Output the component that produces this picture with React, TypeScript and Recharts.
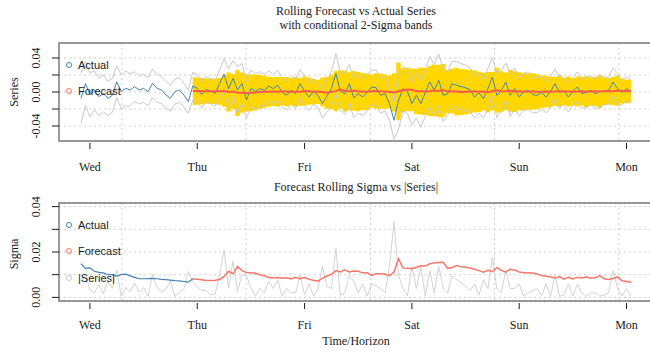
import React from 'react';
import {
  ComposedChart,
  Line,
  Area,
  XAxis,
  YAxis,
  CartesianGrid,
  ReferenceArea,
} from 'recharts';

// hourly observations, first one is 2h before Wed 00:00
const START_HOUR = -2;
const FORECAST_START = 23;

const dayTicks = [0, 24, 48, 72, 96, 120];
const dayLabels = ['Wed', 'Thu', 'Fri', 'Sat', 'Sun', 'Mon'];
const gridHours = [7.15, 34.93, 62.71, 90.49, 118.27];

const seriesTicks = [-0.04, -0.02, 0, 0.02, 0.04];
const seriesTickLabels = ['-0.04', '', '0.00', '', '0.04'];
const sigmaTicks = [0, 0.01, 0.02, 0.03, 0.04];
const sigmaTickLabels = ['0.00', '', '0.02', '', '0.04'];

const X_MIN = -6.92;
const X_MAX = 125.92;
const SERIES_DOMAIN: [number, number] = [-0.0576, 0.0576];
const SIGMA_DOMAIN: [number, number] = [-0.0016, 0.0416];

const actual = [
  -0.0074, 0.0100, -0.0035, 0.0020, -0.0055, -0.0016, -0.0074, -0.0040, 0.0120, 0.0004,
  0.0043, 0.0024, 0.0063, 0.0024, 0.0043, 0.0004, 0.0102, 0.0043, 0.0024, -0.0035,
  -0.0074, 0.0004, 0.0024, -0.0035, -0.0114, 0.0070, 0.0045, -0.0030, 0.0030, 0.0010,
  -0.0015, 0.0100, 0.0210, 0.0040, 0.0160, 0.0025, 0.0100, -0.0095, 0.0043, 0.0006,
  0.0040, 0.0020, 0.0070, 0.0040, 0.0078, -0.0004, -0.0039, 0.0020, -0.0020, 0.0098,
  0.0010, -0.0059, 0.0005, -0.0039, -0.0137, -0.0050, 0.0039, 0.0216, 0.0008, -0.0020,
  0.0098, -0.0070, -0.0020, -0.0059, -0.0005, 0.0060, 0.0050, -0.0039, -0.0020, -0.0137,
  -0.0333, -0.0098, 0.0039, 0.0006, -0.0137, -0.0039, -0.0137, -0.0006, 0.0118, 0.0020,
  0.0137, -0.0039, -0.0020, 0.0098, 0.0078, 0.0065, 0.0050, 0.0030, -0.0059, -0.0010,
  -0.0078, 0.0039, 0.0176, -0.0039, 0.0020, 0.0118, -0.0039, 0.0039, -0.0059, 0.0005,
  0.0020, -0.0030, -0.0039, -0.0006, -0.0059, 0.0004, 0.0098, -0.0005, 0.0010, -0.0059,
  0.0006, 0.0059, -0.0020, -0.0004, 0.0020, -0.0020, 0.0005, 0.0010, 0.0020, 0.0118,
  0.0039, -0.0006, 0.0039, 0.0008,
];

const sigma = [
  0.0148, 0.0128, 0.0130, 0.0115, 0.0110, 0.0108, 0.0100, 0.0100, 0.0094, 0.0100,
  0.0102, 0.0095, 0.0088, 0.0082, 0.0082, 0.0083, 0.0084, 0.0082, 0.0079, 0.0078,
  0.0076, 0.0074, 0.0073, 0.0070, 0.0067, 0.0082, 0.0080, 0.0078, 0.0074, 0.0074,
  0.0075, 0.0079, 0.0092, 0.0115, 0.0104, 0.0136, 0.0118, 0.0110, 0.0108, 0.0106,
  0.0100, 0.0095, 0.0088, 0.0085, 0.0088, 0.0084, 0.0086, 0.0081, 0.0088, 0.0082,
  0.0087, 0.0080, 0.0075, 0.0071, 0.0085, 0.0094, 0.0102, 0.0118, 0.0112, 0.0121,
  0.0112, 0.0116, 0.0115, 0.0108, 0.0108, 0.0097, 0.0104, 0.0104, 0.0102, 0.0096,
  0.0112, 0.0170, 0.0130, 0.0128, 0.0126, 0.0133, 0.0139, 0.0138, 0.0148, 0.0152,
  0.0154, 0.0155, 0.0128, 0.0132, 0.0140, 0.0135, 0.0133, 0.0129, 0.0124, 0.0118,
  0.0111, 0.0119, 0.0113, 0.0132, 0.0119, 0.0111, 0.0124, 0.0120, 0.0112, 0.0109,
  0.0108, 0.0107, 0.0103, 0.0096, 0.0093, 0.0090, 0.0085, 0.0092, 0.0080, 0.0088,
  0.0081, 0.0088, 0.0085, 0.0091, 0.0084, 0.0086, 0.0096, 0.0082, 0.0079, 0.0083,
  0.0090, 0.0073, 0.0070, 0.0067,
];

// rolling mean forecast, from Thu 00:00 (hour 23) on
const forecast = [
  0.0012, 0.0010, 0.0008, 0.0010, 0.0008, 0.0010, 0.0008, 0.0012, 0.0000, 0.0005,
  -0.0010, -0.0008, -0.0012, -0.0010, -0.0005, 0.0000, 0.0004, 0.0002, 0.0005, 0.0003,
  0.0008, 0.0005, 0.0002, 0.0004, 0.0002, 0.0012, 0.0010, 0.0003, 0.0002, 0.0000,
  -0.0008, 0.0002, 0.0010, 0.0030, 0.0012, 0.0008, 0.0015, 0.0005, 0.0005, 0.0002,
  0.0008, 0.0012, 0.0010, 0.0003, 0.0002, -0.0005, 0.0008, 0.0020, 0.0030, 0.0025,
  0.0008, 0.0010, 0.0005, 0.0010, 0.0018, 0.0012, 0.0020, 0.0005, 0.0010, 0.0005,
  0.0000, 0.0002, 0.0005, 0.0008, 0.0002, 0.0005, -0.0002, 0.0008, 0.0020, 0.0005,
  0.0008, 0.0015, 0.0005, 0.0008, 0.0002, 0.0005, 0.0006, 0.0004, 0.0003, 0.0005,
  0.0002, 0.0005, 0.0012, 0.0006, 0.0006, 0.0002, 0.0005, 0.0010, 0.0004, 0.0006,
  0.0008, 0.0005, 0.0008, 0.0008, 0.0010, 0.0018, 0.0012, 0.0008, 0.0010,
];

const rows = actual.map((a, i) => {
  const t = START_HOUR + i;
  const s = sigma[i];
  const f = t >= FORECAST_START ? forecast[t - FORECAST_START] : null;
  return {
    t,
    actual: a,
    upper: a + 2 * s,
    lower: a - 2 * s,
    forecast: f,
    band: f === null ? null : [f - 2 * s, f + 2 * s],
    absSeries: Math.abs(a),
    sigmaIn: t <= FORECAST_START ? s : null,
    sigmaOut: t >= FORECAST_START ? s : null,
  };
});

const SERIF = '"Liberation Serif", "Times New Roman", serif';
const SANS = '"Liberation Sans", Arial, sans-serif';
const INK = '#1a1a1a';
const GRID = '#cfcfcf';

// vertical grid lines at the pretty time breaks (hours), placed in the plot area
const vGridCoords = (p: any) => {
  const off = (p && p.offset) || {};
  const left = typeof off.left === 'number' ? off.left : 59;
  const width = typeof off.width === 'number' ? off.width : 594;
  return gridHours.map((h) => left + ((h - X_MIN) / (X_MAX - X_MIN)) * width);
};

function DayTick(props: any) {
  const { x, y, payload, labelOffset } = props;
  const idx = dayTicks.indexOf(payload.value);
  return (
    <g>
      <line x1={x} x2={x} y1={y + 2} y2={y + 8} stroke={INK} strokeWidth={1} />
      <text x={x} y={y + labelOffset} textAnchor="middle" fontFamily={SERIF} fontSize={12} fill={INK}>
        {dayLabels[idx]}
      </text>
    </g>
  );
}

function ValueTick(props: any) {
  const { x, y, payload, ticks, labels } = props;
  const idx = ticks.findIndex((v: number) => Math.abs(v - payload.value) < 1e-9);
  const label = idx >= 0 ? labels[idx] : '';
  const cx = x - 23;
  return (
    <g>
      <line x1={x - 7} x2={x} y1={y} y2={y} stroke={INK} strokeWidth={1} />
      {label && (
        <text
          x={cx}
          y={y}
          transform={`rotate(-90 ${cx} ${y})`}
          textAnchor="middle"
          dominantBaseline="central"
          fontFamily={SERIF}
          fontSize={12}
          fill={INK}
        >
          {label}
        </text>
      )}
    </g>
  );
}

function LegendKey({ color, label, top }: { color: string; label: string; top: number }) {
  return (
    <div style={{ position: 'absolute', left: 66, top: top - 7, height: 14, display: 'flex', alignItems: 'center' }}>
      <span
        style={{
          width: 4,
          height: 4,
          borderRadius: '50%',
          border: `1px solid ${color}`,
          display: 'inline-block',
        }}
      />
      <span style={{ marginLeft: 6, fontFamily: SANS, fontSize: 11, color: INK, lineHeight: '14px' }}>{label}</span>
    </div>
  );
}

function CenterText({ text, top }: { text: string; top: number }) {
  return (
    <div
      style={{
        position: 'absolute',
        left: 156,
        width: 400,
        top,
        textAlign: 'center',
        fontFamily: SERIF,
        fontSize: 12,
        lineHeight: '14px',
        color: INK,
      }}
    >
      {text}
    </div>
  );
}

function SideLabel({ text, centerY }: { text: string; centerY: number }) {
  return (
    <div
      style={{
        position: 'absolute',
        left: 14 - 50,
        top: centerY - 7,
        width: 100,
        height: 14,
        lineHeight: '14px',
        textAlign: 'center',
        transform: 'rotate(-90deg)',
        fontFamily: SERIF,
        fontSize: 12,
        color: INK,
      }}
    >
      {text}
    </div>
  );
}

export default function App() {
  return (
    <div style={{ position: 'absolute', left: 0, top: 0, width: 650, height: 352, overflow: 'hidden', background: '#fff' }}>
      <CenterText text="Rolling Forecast vs Actual Series" top={4} />
      <CenterText text="with conditional 2-Sigma bands" top={18} />

      <div style={{ position: 'absolute', left: 0, top: 0 }}>
        <ComposedChart width={660} height={176} data={rows} margin={{ top: 43, right: 7, bottom: 0, left: 0 }}>
          <CartesianGrid stroke={GRID} strokeDasharray="2 3" verticalCoordinatesGenerator={vGridCoords} />
          <XAxis
            dataKey="t"
            type="number"
            domain={[X_MIN, X_MAX]}
            ticks={dayTicks}
            allowDataOverflow
            height={35}
            axisLine={false}
            tickLine={false}
            tickSize={0}
            tickMargin={0}
            interval={0}
            tick={<DayTick labelOffset={30} />}
          />
          <YAxis
            type="number"
            domain={SERIES_DOMAIN}
            ticks={seriesTicks}
            allowDataOverflow
            width={59}
            axisLine={false}
            tickLine={false}
            tickSize={0}
            tickMargin={0}
            interval={0}
            tick={<ValueTick ticks={seriesTicks} labels={seriesTickLabels} />}
          />
          <Area
            dataKey="band"
            type="step"
            stroke="none"
            fill="#FFD700"
            fillOpacity={1}
            isAnimationActive={false}
            dot={false}
            activeDot={false}
          />
          <Line dataKey="upper" type="linear" stroke="#c9c9c9" strokeWidth={1} dot={false} activeDot={false} isAnimationActive={false} />
          <Line dataKey="lower" type="linear" stroke="#c9c9c9" strokeWidth={1} dot={false} activeDot={false} isAnimationActive={false} />
          <Line dataKey="actual" type="linear" stroke="#4682B4" strokeWidth={1} dot={false} activeDot={false} isAnimationActive={false} />
          <Line dataKey="forecast" type="linear" stroke="#ff5a4a" strokeWidth={2} dot={false} activeDot={false} isAnimationActive={false} />
          <ReferenceArea x1={X_MIN} x2={X_MAX} y1={SERIES_DOMAIN[0]} y2={SERIES_DOMAIN[1]} fill="none" stroke="#7a7a7a" strokeWidth={1.5} />
        </ComposedChart>
      </div>

      <div style={{ position: 'absolute', left: 0, top: 176 }}>
        <ComposedChart width={660} height={176} data={rows} margin={{ top: 27, right: 7, bottom: 0, left: 0 }}>
          <CartesianGrid stroke={GRID} strokeDasharray="2 3" verticalCoordinatesGenerator={vGridCoords} />
          <XAxis
            dataKey="t"
            type="number"
            domain={[X_MIN, X_MAX]}
            ticks={dayTicks}
            allowDataOverflow
            height={51}
            axisLine={false}
            tickLine={false}
            tickSize={0}
            tickMargin={0}
            interval={0}
            tick={<DayTick labelOffset={28} />}
          />
          <YAxis
            type="number"
            domain={SIGMA_DOMAIN}
            ticks={sigmaTicks}
            allowDataOverflow
            width={59}
            axisLine={false}
            tickLine={false}
            tickSize={0}
            tickMargin={0}
            interval={0}
            tick={<ValueTick ticks={sigmaTicks} labels={sigmaTickLabels} />}
          />
          <Line dataKey="absSeries" type="linear" stroke="#d2d2d2" strokeWidth={1} dot={false} activeDot={false} isAnimationActive={false} />
          <Line dataKey="sigmaIn" type="linear" stroke="#4682B4" strokeWidth={1.2} dot={false} activeDot={false} isAnimationActive={false} />
          <Line dataKey="sigmaOut" type="linear" stroke="#f8766a" strokeWidth={1.5} dot={false} activeDot={false} isAnimationActive={false} />
          <ReferenceArea x1={X_MIN} x2={X_MAX} y1={SIGMA_DOMAIN[0]} y2={SIGMA_DOMAIN[1]} fill="none" stroke="#7a7a7a" strokeWidth={1.5} />
        </ComposedChart>
      </div>

      <SideLabel text="Series" centerY={92} />
      <SideLabel text="Sigma" centerY={254} />
      <CenterText text="Forecast Rolling Sigma vs |Series|" top={180} />
      <CenterText text="Time/Horizon" top={334} />

      <LegendKey color="#4682B4" label="Actual" top={65} />
      <LegendKey color="#f8766a" label="Forecast" top={91} />
      <LegendKey color="#4682B4" label="Actual" top={225} />
      <LegendKey color="#f8766a" label="Forecast" top={251} />
      <LegendKey color="#c8c8c8" label="|Series|" top={278} />
    </div>
  );
}
